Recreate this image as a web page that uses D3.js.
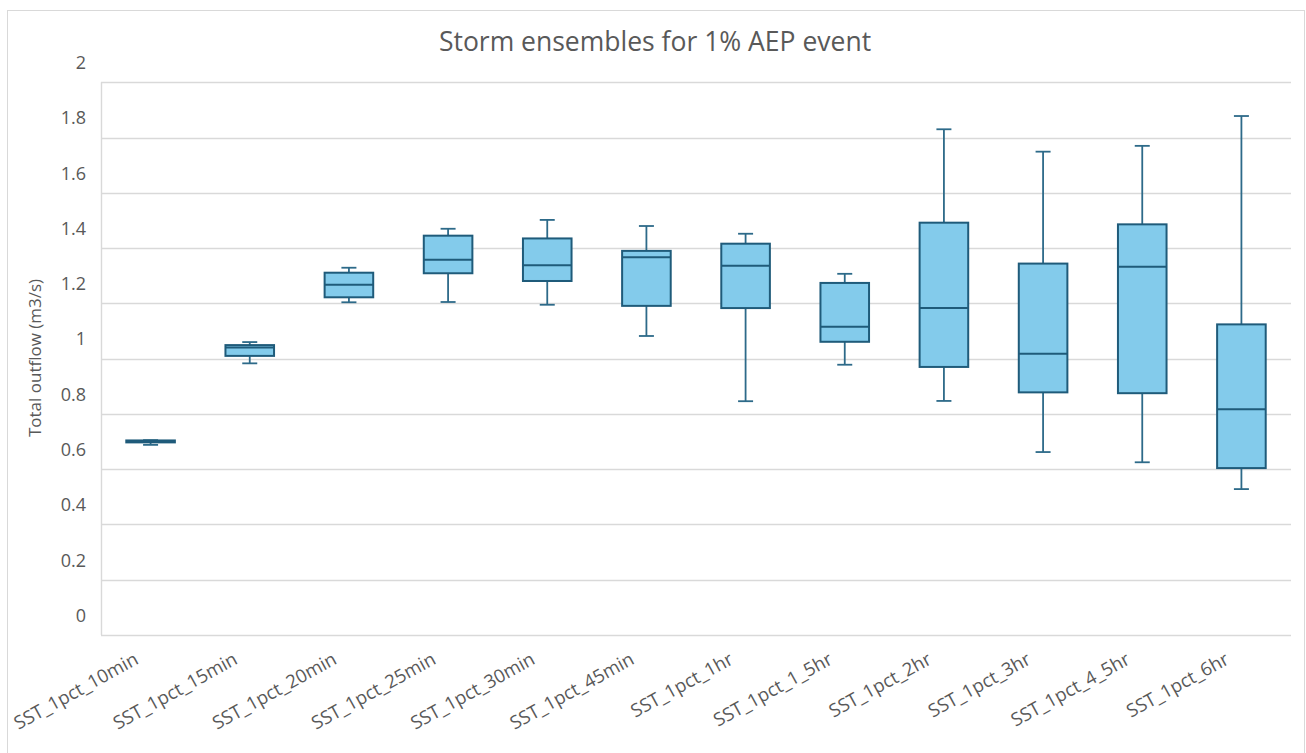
<!DOCTYPE html>
<html>
<head>
<meta charset="utf-8">
<script src="https://cdn.jsdelivr.net/npm/d3@7"></script>
<style>
  html, body { margin: 0; padding: 0; background: #fff; }
  svg { display: block; }
  text { font-family: "Open Sans", "Noto Sans", sans-serif; fill: #595959; }
</style>
</head>
<body>
<svg id="chart" width="1306" height="753"></svg>
<script>
// Storm ensemble durations (category axis)
const categories = [
  "SST_1pct_10min", "SST_1pct_15min", "SST_1pct_20min", "SST_1pct_25min",
  "SST_1pct_30min", "SST_1pct_45min", "SST_1pct_1hr", "SST_1pct_1_5hr",
  "SST_1pct_2hr", "SST_1pct_3hr", "SST_1pct_4_5hr", "SST_1pct_6hr"
];
// Five-number summary of total outflow (m3/s) per duration
const mins    = [0.688, 0.983, 1.204, 1.205, 1.195, 1.082, 0.846, 0.978, 0.847, 0.662, 0.625, 0.528];
const q1s     = [0.697, 1.010, 1.222, 1.309, 1.281, 1.191, 1.183, 1.061, 0.970, 0.878, 0.875, 0.604];
const medians = [0.700, 1.040, 1.267, 1.358, 1.338, 1.367, 1.336, 1.115, 1.183, 1.018, 1.333, 0.817];
const q3s     = [0.704, 1.049, 1.311, 1.445, 1.435, 1.390, 1.416, 1.274, 1.492, 1.344, 1.486, 1.124];
const maxs    = [0.705, 1.060, 1.329, 1.470, 1.502, 1.480, 1.452, 1.307, 1.830, 1.749, 1.770, 1.878];
// Value axis ticks
const yTicks = [0, 0.2, 0.4, 0.6, 0.8, 1, 1.2, 1.4, 1.6, 1.8, 2];

const rows = categories.map((c, i) => ({
  cat: c, min: mins[i], q1: q1s[i], med: medians[i], q3: q3s[i], max: maxs[i]
}));

const svg = d3.select("#chart");

// Chart area border
svg.append("rect")
  .attr("x", 7.5).attr("y", 10.5)
  .attr("width", 1297).attr("height", 760)
  .attr("fill", "#fff").attr("stroke", "#D9D9D9").attr("stroke-width", 1);

const plot = { left: 101, right: 1291, top: 82.3, bottom: 635 };

const x = d3.scaleBand().domain(categories).range([plot.left, plot.right]);
const y = d3.scaleLinear().domain([0, 2]).range([plot.bottom, plot.top]);

// Horizontal gridlines
svg.append("g")
  .selectAll("line")
  .data(yTicks)
  .join("line")
  .attr("x1", plot.left).attr("x2", plot.right)
  .attr("y1", d => Math.round(y(d)) + 0.5).attr("y2", d => Math.round(y(d)) + 0.5)
  .attr("stroke", "#D9D9D9").attr("stroke-width", 1.4);

// Left plot edge
svg.append("line")
  .attr("x1", plot.left + 0.5).attr("x2", plot.left + 0.5)
  .attr("y1", plot.top).attr("y2", plot.bottom)
  .attr("stroke", "#D9D9D9").attr("stroke-width", 1.4);

// Value axis labels
const yAxis = d3.axisLeft(y).tickValues(yTicks).tickSize(0).tickPadding(0)
  .tickFormat(d => String(d));
const gy = svg.append("g").attr("transform", `translate(86,0)`).call(yAxis);
gy.select(".domain").remove();
gy.selectAll("text")
  .attr("x", 0).attr("y", -20).attr("dy", "0.35em")
  .style("font-size", "18px").style("font-family", "'Open Sans', sans-serif")
  .attr("fill", "#595959");

// Category axis labels
const xAxis = d3.axisBottom(x).tickSize(0).tickPadding(0);
const gx = svg.append("g").attr("transform", `translate(0,${plot.bottom})`).call(xAxis);
gx.select(".domain").remove();
gx.selectAll("text")
  .attr("y", 0).attr("dy", 0)
  .attr("text-anchor", "end")
  .attr("transform", "translate(-11,28) rotate(-29)")
  .style("font-size", "18.5px").style("font-family", "'Open Sans', sans-serif")
  .attr("fill", "#595959");

// Box-and-whisker marks
const boxW = x.bandwidth() * 0.49;
const capW = 15;
const stroke = "#1F5B7A";
const g = svg.append("g")
  .selectAll("g")
  .data(rows)
  .join("g")
  .attr("transform", d => `translate(${x(d.cat) + x.bandwidth() / 2},0)`);

// whisker stems
g.append("line").attr("x1", 0).attr("x2", 0)
  .attr("y1", d => y(d.max)).attr("y2", d => y(d.q3))
  .attr("stroke", "#2D6A89").attr("stroke-width", 1.8);
g.append("line").attr("x1", 0).attr("x2", 0)
  .attr("y1", d => y(d.q1)).attr("y2", d => y(d.min))
  .attr("stroke", "#2D6A89").attr("stroke-width", 1.8);
// whisker caps
g.append("line").attr("x1", -capW / 2).attr("x2", capW / 2)
  .attr("y1", d => y(d.max)).attr("y2", d => y(d.max))
  .attr("stroke", "#2D6A89").attr("stroke-width", 1.8);
g.append("line").attr("x1", -capW / 2).attr("x2", capW / 2)
  .attr("y1", d => y(d.min)).attr("y2", d => y(d.min))
  .attr("stroke", "#2D6A89").attr("stroke-width", 1.8);
// boxes
g.append("rect")
  .attr("x", -boxW / 2).attr("width", boxW)
  .attr("y", d => y(d.q3)).attr("height", d => Math.max(0.5, y(d.q1) - y(d.q3)))
  .attr("fill", "#83CBEB").attr("stroke", stroke).attr("stroke-width", 2);
// medians
g.append("line").attr("x1", -boxW / 2).attr("x2", boxW / 2)
  .attr("y1", d => y(d.med)).attr("y2", d => y(d.med))
  .attr("stroke", stroke).attr("stroke-width", 2);

// Title
svg.append("text")
  .attr("x", 655).attr("y", 51)
  .attr("text-anchor", "middle")
  .style("font-size", "26.5px").style("font-family", "'Open Sans', sans-serif")
  .text("Storm ensembles for 1% AEP event");

// Value axis title
svg.append("text")
  .attr("transform", "translate(41,358) rotate(-90)")
  .attr("text-anchor", "middle")
  .style("font-size", "17px").style("font-family", "'Open Sans', sans-serif")
  .text("Total outflow (m3/s)");
</script>
</body>
</html>
